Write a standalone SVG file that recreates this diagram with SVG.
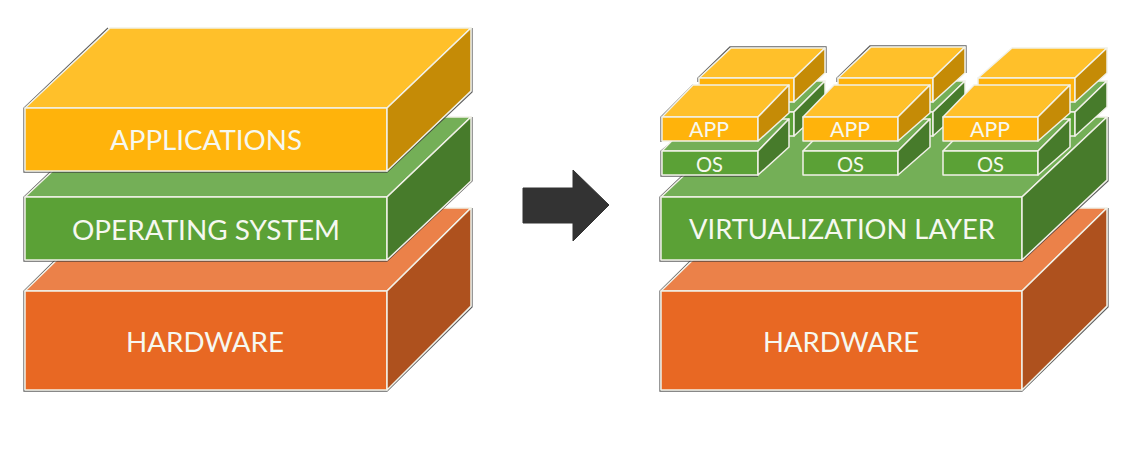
<svg xmlns="http://www.w3.org/2000/svg" width="1137" height="451" viewBox="0 0 1137 451">
<style>
polygon{stroke:#f1f1e8;stroke-width:1.5;stroke-linejoin:round}
polyline{fill:none;stroke:#3a3a3a;stroke-width:1.3;stroke-opacity:.8}
text{font-family:"Lato","Open Sans","Liberation Sans",sans-serif;fill:#f6f8f0;text-anchor:start}
.big{font-size:27px}.small{font-size:21px}
.yf{fill:#ffb30b}.yt{fill:#ffc02a}.ys{fill:#c58b06}
.gf{fill:#5ba136}.gt{fill:#74af57}.gs{fill:#477b2b}
.of{fill:#e86823}.ot{fill:#eb8149}.os{fill:#ae511e}
</style>
<g id="left-hardware">
<polyline points="108,208 24,291 24,391 387,391 472,307 472,208"/>
<polygon class="ot" points="25,291 110,208 471,208 387,291"/>
<polygon class="of" points="25,291 387,291 387,390 25,390"/>
<polygon class="os" points="387,291 471,208 471,306 387,390"/>
<text class="big" x="126" y="352" textLength="158" lengthAdjust="spacingAndGlyphs">HARDWARE</text>
</g>
<g id="left-os">
<polyline points="108,117 24,197 24,261 387,261 472,181 472,117"/>
<polygon class="gt" points="25,197 110,117 471,117 387,197"/>
<polygon class="gf" points="25,197 387,197 387,260 25,260"/>
<polygon class="gs" points="387,197 471,117 471,181 387,260"/>
<text class="big" x="72" y="240" textLength="268" lengthAdjust="spacingAndGlyphs">OPERATING SYSTEM</text>
</g>
<g id="left-applications">
<polyline points="108,28 24,108 24,172 387,172 472,92 472,28"/>
<polygon class="yt" points="25,108 110,28 471,28 387,108"/>
<polygon class="yf" points="25,108 387,108 387,171 25,171"/>
<polygon class="ys" points="387,108 471,28 471,91 387,171"/>
<text class="big" x="110" y="150" textLength="192" lengthAdjust="spacingAndGlyphs">APPLICATIONS</text>
</g>
<g id="connectors">
<polygon points="523,188 573,188 573,170 609,205 573,241 573,223 523,223" style="fill:#333;stroke:#333;stroke-width:1"/>
</g>
<g id="right-hardware">
<polyline points="744,208 660,291 660,391 1022,391 1108,307 1108,208"/>
<polygon class="ot" points="661,291 746,208 1107,208 1022,291"/>
<polygon class="of" points="661,291 1022,291 1022,390 661,390"/>
<polygon class="os" points="1022,291 1107,208 1107,306 1022,390"/>
<text class="big" x="763" y="352" textLength="156" lengthAdjust="spacingAndGlyphs">HARDWARE</text>
</g>
<g id="virtualization-layer">
<polyline points="744,117 660,197 660,261 1022,261 1108,181 1108,117"/>
<polygon class="gt" points="661,197 746,117 1107,117 1022,197"/>
<polygon class="gf" points="661,197 1022,197 1022,260 661,260"/>
<polygon class="gs" points="1022,197 1107,117 1107,180 1022,260"/>
<text class="big" x="689" y="239" textLength="306" lengthAdjust="spacingAndGlyphs">VIRTUALIZATION LAYER</text>
</g>
<g id="back-os-1">
<polygon class="gt" points="699,112 730,81 825,81 794,112"/>
<polygon class="gf" points="699,112 794,112 794,136 699,136"/>
<polygon class="gs" points="794,112 825,81 825,107 794,136"/>
</g>
<g id="back-os-2">
<polygon class="gt" points="838,112 869,81 965,81 933,112"/>
<polygon class="gf" points="838,112 933,112 933,136 838,136"/>
<polygon class="gs" points="933,112 965,81 965,107 933,136"/>
</g>
<g id="back-os-3">
<polygon class="gt" points="978,112 1011,81 1107,81 1075,112"/>
<polygon class="gf" points="978,112 1075,112 1075,136 978,136"/>
<polygon class="gs" points="1075,112 1107,81 1107,107 1075,136"/>
</g>
<g id="back-app-1">
<polyline points="698,82 698,78 730,47 826,47 826,73"/>
<polygon class="yt" points="699,78 731,48 825,48 794,78"/>
<polygon class="yf" points="699,78 794,78 794,102 699,102"/>
<polygon class="ys" points="794,78 825,48 825,73 794,102"/>
</g>
<g id="back-app-2">
<polyline points="837,82 837,78 870,46 966,46 966,73"/>
<polygon class="yt" points="838,78 871,47 965,47 933,78"/>
<polygon class="yf" points="838,78 933,78 933,102 838,102"/>
<polygon class="ys" points="933,78 965,47 965,73 933,102"/>
</g>
<g id="back-app-3">
<polygon class="yt" points="978,78 1012,48 1107,48 1075,78"/>
<polygon class="yf" points="978,78 1075,78 1075,102 978,102"/>
<polygon class="ys" points="1075,78 1107,48 1107,73 1075,102"/>
</g>
<g id="os-1">
<polyline points="667,146 661,151 661,176 758,176"/>
<polygon class="gt" points="662,151 693,119 789,119 758,151"/>
<polygon class="gf" points="662,151 758,151 758,175 662,175"/>
<polygon class="gs" points="758,151 789,119 789,147 758,175"/>
<text class="small" x="696" y="172" textLength="27" lengthAdjust="spacingAndGlyphs">OS</text>
</g>
<g id="os-2">
<polygon class="gt" points="803,151 834,119 930,119 898,151"/>
<polygon class="gf" points="803,151 898,151 898,175 803,175"/>
<polygon class="gs" points="898,151 930,119 930,147 898,175"/>
<text class="small" x="837" y="172" textLength="27" lengthAdjust="spacingAndGlyphs">OS</text>
</g>
<g id="os-3">
<polygon class="gt" points="943,151 974,119 1070,119 1038,151"/>
<polygon class="gf" points="943,151 1038,151 1038,175 943,175"/>
<polygon class="gs" points="1038,151 1070,119 1070,147 1038,175"/>
<text class="small" x="977" y="172" textLength="27" lengthAdjust="spacingAndGlyphs">OS</text>
</g>
<g id="app-1">
<polyline points="693,85 661,117 661,142"/>
<polygon class="yt" points="662,117 693,85 789,85 758,117"/>
<polygon class="yf" points="662,117 758,117 758,141 662,141"/>
<polygon class="ys" points="758,117 789,85 789,113 758,141"/>
<text class="small" x="689" y="137" textLength="40" lengthAdjust="spacingAndGlyphs">APP</text>
</g>
<g id="app-2">
<polygon class="yt" points="803,117 834,85 930,85 898,117"/>
<polygon class="yf" points="803,117 898,117 898,141 803,141"/>
<polygon class="ys" points="898,117 930,85 930,113 898,141"/>
<text class="small" x="830" y="137" textLength="40" lengthAdjust="spacingAndGlyphs">APP</text>
</g>
<g id="app-3">
<polygon class="yt" points="943,117 974,85 1070,85 1038,117"/>
<polygon class="yf" points="943,117 1038,117 1038,141 943,141"/>
<polygon class="ys" points="1038,117 1070,85 1070,113 1038,141"/>
<text class="small" x="970" y="137" textLength="40" lengthAdjust="spacingAndGlyphs">APP</text>
</g>
</svg>
